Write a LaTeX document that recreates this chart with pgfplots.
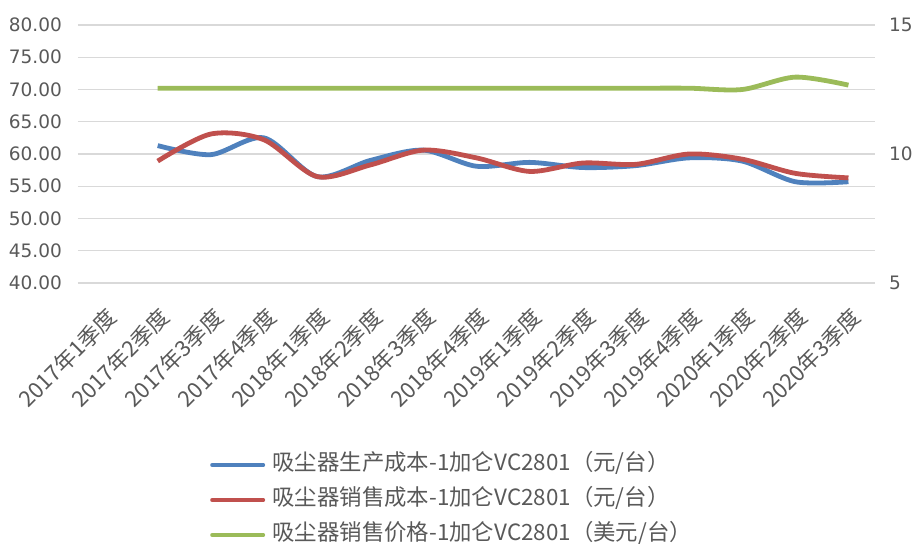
\documentclass[border=0pt]{standalone}
\usepackage{fontspec}
\setmainfont{DejaVu Sans}
\newfontfamily\cjk{Noto Sans CJK SC}
\usepackage{pgfplots}
\pgfplotsset{compat=1.18}
\definecolor{cblue}{HTML}{4F81BD}
\definecolor{cred}{HTML}{C0504D}
\definecolor{cgreen}{HTML}{9BBB59}
\definecolor{tickgray}{HTML}{595959}
\definecolor{gridgray}{HTML}{D9D9D9}
\pgfplotsset{
  base/.style={
    at={(0pt,0pt)}, anchor=south west,
    scale only axis, width=797pt, height=258pt,
    xmin=-0.5, xmax=14.5,
    axis line style={draw=none}, major tick style={draw=none},
  },
}
\begin{document}
\begin{tikzpicture}
\useasboundingbox (-78pt,-260pt) rectangle (839pt,283pt);
\begin{axis}[base,
  ymin=40, ymax=80,
  xtick={0,...,14},
  xticklabels={2017年1季度,2017年2季度,2017年3季度,2017年4季度,2018年1季度,2018年2季度,2018年3季度,2018年4季度,2019年1季度,2019年2季度,2019年3季度,2019年4季度,2020年1季度,2020年2季度,2020年3季度},
  xticklabel style={font=\cjk\fontsize{22}{22}\selectfont, text=tickgray, inner sep=0pt, xshift=8pt, yshift=-30pt, rotate=45, anchor=east},
  ytick={40,45,...,80},
  yticklabel style={font=\fontsize{18.5}{20}\selectfont, text=tickgray, inner sep=0pt, anchor=east, xshift=-16pt},
  /pgf/number format/.cd, fixed, fixed zerofill, precision=2, assume math mode=true, /pgfplots/.cd,
  ymajorgrids, grid style={gridgray, line width=1.2pt},
]
\addplot[cblue, line width=4.8pt, smooth, tension=0.5] coordinates {
(1,61.3)(2,59.9)(3,62.5)(4,56.5)(5,59.0)(6,60.6)(7,58.1)(8,58.7)(9,57.9)(10,58.2)(11,59.4)(12,58.9)(13,55.7)(14,55.7)};
\addplot[cred, line width=4.8pt, smooth, tension=0.5] coordinates {
(1,58.9)(2,63.1)(3,62.2)(4,56.5)(5,58.3)(6,60.6)(7,59.4)(8,57.3)(9,58.6)(10,58.4)(11,60.0)(12,59.2)(13,57.0)(14,56.3)};
\end{axis}
\begin{axis}[base,
  ymin=5, ymax=15,
  hide x axis,
  axis y line*=right,
  ytick={5,10,15},
  yticklabel style={font=\fontsize{18.5}{20}\selectfont, text=tickgray, inner sep=0pt, anchor=west, xshift=14pt},
  /pgf/number format/assume math mode=true,
  legend style={at={(axis description cs:0.1656,-0.664)}, anchor=north west, draw=none, fill=none,
    font=\cjk\fontsize{22.4}{22.4}\selectfont, text=tickgray, inner sep=0pt, row sep=14pt,
    nodes={inner sep=0pt, text height=16pt, text depth=5pt}, cells={anchor=west}},
  legend image code/.code={\draw[#1, line width=4pt, line cap=round] (2pt,0pt) -- (53pt,0pt); \path (60pt,0pt);},
]
\addlegendimage{cblue}
\addlegendimage{cred}
\addplot[cgreen, line width=4.8pt, smooth, tension=0.5] coordinates {
(1,12.55)(2,12.55)(3,12.55)(4,12.55)(5,12.55)(6,12.55)(7,12.55)(8,12.55)(9,12.55)(10,12.55)(11,12.55)(12,12.5)(13,12.98)(14,12.67)};
\legend{吸尘器生产成本-1加仑VC2801（元/台）,吸尘器销售成本-1加仑VC2801（元/台）,吸尘器销售价格-1加仑VC2801（美元/台）}
\end{axis}
\end{tikzpicture}
\end{document}
